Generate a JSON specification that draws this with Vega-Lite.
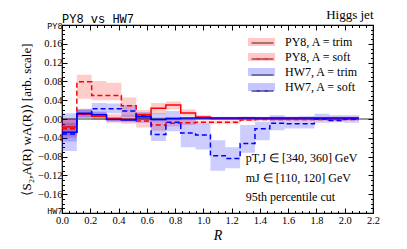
{
"$schema": "https://vega.github.io/schema/vega-lite/v6.json",
"width": 311, "height": 188,
"autosize": "none",
"padding": {"left": 62, "top": 25, "right": 34, "bottom": 36},
"config": {
  "view": {"stroke": "black", "strokeWidth": 1.2},
  "font": "Liberation Serif",
  "axis": {"grid": false, "domain": false, "tickColor": "black", "labelColor": "black", "titleColor": "black", "labelFont": "Liberation Serif", "titleFont": "Liberation Serif", "titleFontWeight": "normal"}
},
"title": {"text": "PY8 vs HW7", "anchor": "start", "frame": "group", "font": "Liberation Mono", "fontSize": 12, "fontWeight": "normal", "color": "black", "offset": -17},
"datasets": {"bins": [
{"s":"PY8, A = trim","R":0,"v":-0.017,"lo":-0.035,"hi":0.002},
{"s":"PY8, A = trim","R":0.105,"v":0.010,"lo":0.002,"hi":0.020},
{"s":"PY8, A = trim","R":0.21,"v":0.006,"lo":-0.002,"hi":0.014},
{"s":"PY8, A = trim","R":0.315,"v":0.001,"lo":-0.008,"hi":0.010},
{"s":"PY8, A = trim","R":0.42,"v":-0.001,"lo":-0.010,"hi":0.008},
{"s":"PY8, A = trim","R":0.525,"v":0.009,"lo":-0.001,"hi":0.019},
{"s":"PY8, A = trim","R":0.63,"v":0.023,"lo":0.010,"hi":0.034},
{"s":"PY8, A = trim","R":0.735,"v":0.030,"lo":0.020,"hi":0.037},
{"s":"PY8, A = trim","R":0.84,"v":0.013,"lo":0.006,"hi":0.020},
{"s":"PY8, A = trim","R":0.945,"v":0.004,"lo":0.000,"hi":0.008},
{"s":"PY8, A = trim","R":1.05,"v":0.001,"lo":-0.002,"hi":0.004},
{"s":"PY8, A = trim","R":1.155,"v":0.001,"lo":-0.002,"hi":0.004},
{"s":"PY8, A = trim","R":1.26,"v":0.002,"lo":-0.001,"hi":0.005},
{"s":"PY8, A = trim","R":1.365,"v":0.001,"lo":-0.002,"hi":0.004},
{"s":"PY8, A = trim","R":1.47,"v":0.001,"lo":-0.002,"hi":0.004},
{"s":"PY8, A = trim","R":1.575,"v":0.001,"lo":-0.001,"hi":0.003},
{"s":"PY8, A = trim","R":1.68,"v":0.001,"lo":-0.001,"hi":0.003},
{"s":"PY8, A = trim","R":1.785,"v":0.001,"lo":-0.001,"hi":0.003},
{"s":"PY8, A = trim","R":1.89,"v":0.001,"lo":-0.001,"hi":0.003},
{"s":"PY8, A = trim","R":1.995,"v":0.001,"lo":-0.001,"hi":0.003},
{"s":"PY8, A = trim","R":2.1,"v":0.001,"lo":-0.001,"hi":0.003},
{"s":"PY8, A = soft","R":0,"v":-0.021,"lo":-0.040,"hi":0.000},
{"s":"PY8, A = soft","R":0.105,"v":0.079,"lo":0.043,"hi":0.094},
{"s":"PY8, A = soft","R":0.21,"v":0.050,"lo":0.040,"hi":0.081},
{"s":"PY8, A = soft","R":0.315,"v":0.050,"lo":0.040,"hi":0.077},
{"s":"PY8, A = soft","R":0.42,"v":0.028,"lo":0.005,"hi":0.046},
{"s":"PY8, A = soft","R":0.525,"v":-0.004,"lo":-0.018,"hi":0.012},
{"s":"PY8, A = soft","R":0.63,"v":-0.013,"lo":-0.025,"hi":0.000},
{"s":"PY8, A = soft","R":0.735,"v":-0.009,"lo":-0.016,"hi":-0.002},
{"s":"PY8, A = soft","R":0.84,"v":-0.008,"lo":-0.013,"hi":-0.002},
{"s":"PY8, A = soft","R":0.945,"v":-0.007,"lo":-0.011,"hi":-0.003},
{"s":"PY8, A = soft","R":1.05,"v":-0.007,"lo":-0.010,"hi":-0.003},
{"s":"PY8, A = soft","R":1.155,"v":-0.007,"lo":-0.010,"hi":-0.003},
{"s":"PY8, A = soft","R":1.26,"v":-0.002,"lo":-0.004,"hi":0.001},
{"s":"PY8, A = soft","R":1.365,"v":-0.001,"lo":-0.003,"hi":0.001},
{"s":"PY8, A = soft","R":1.47,"v":-0.001,"lo":-0.003,"hi":0.001},
{"s":"PY8, A = soft","R":1.575,"v":-0.001,"lo":-0.003,"hi":0.001},
{"s":"PY8, A = soft","R":1.68,"v":-0.001,"lo":-0.003,"hi":0.001},
{"s":"PY8, A = soft","R":1.785,"v":-0.001,"lo":-0.003,"hi":0.001},
{"s":"PY8, A = soft","R":1.89,"v":-0.001,"lo":-0.003,"hi":0.001},
{"s":"PY8, A = soft","R":1.995,"v":-0.001,"lo":-0.003,"hi":0.001},
{"s":"PY8, A = soft","R":2.1,"v":-0.001,"lo":-0.003,"hi":0.001},
{"s":"HW7, A = trim","R":0,"v":-0.028,"lo":-0.048,"hi":-0.008},
{"s":"HW7, A = trim","R":0.105,"v":0.012,"lo":0.004,"hi":0.020},
{"s":"HW7, A = trim","R":0.21,"v":0.009,"lo":0.002,"hi":0.016},
{"s":"HW7, A = trim","R":0.315,"v":-0.001,"lo":-0.006,"hi":0.004},
{"s":"HW7, A = trim","R":0.42,"v":-0.002,"lo":-0.007,"hi":0.003},
{"s":"HW7, A = trim","R":0.525,"v":0.005,"lo":-0.001,"hi":0.011},
{"s":"HW7, A = trim","R":0.63,"v":-0.001,"lo":-0.005,"hi":0.003},
{"s":"HW7, A = trim","R":0.735,"v":0.001,"lo":-0.003,"hi":0.004},
{"s":"HW7, A = trim","R":0.84,"v":0.002,"lo":-0.001,"hi":0.005},
{"s":"HW7, A = trim","R":0.945,"v":0.002,"lo":-0.001,"hi":0.005},
{"s":"HW7, A = trim","R":1.05,"v":0.002,"lo":-0.001,"hi":0.005},
{"s":"HW7, A = trim","R":1.155,"v":0.002,"lo":-0.001,"hi":0.005},
{"s":"HW7, A = trim","R":1.26,"v":0.002,"lo":-0.001,"hi":0.005},
{"s":"HW7, A = trim","R":1.365,"v":0.002,"lo":-0.001,"hi":0.005},
{"s":"HW7, A = trim","R":1.47,"v":0.002,"lo":-0.001,"hi":0.005},
{"s":"HW7, A = trim","R":1.575,"v":0.002,"lo":-0.001,"hi":0.005},
{"s":"HW7, A = trim","R":1.68,"v":0.002,"lo":-0.001,"hi":0.005},
{"s":"HW7, A = trim","R":1.785,"v":0.002,"lo":-0.001,"hi":0.005},
{"s":"HW7, A = trim","R":1.89,"v":0.002,"lo":-0.001,"hi":0.005},
{"s":"HW7, A = trim","R":1.995,"v":0.002,"lo":-0.001,"hi":0.005},
{"s":"HW7, A = trim","R":2.1,"v":0.002,"lo":-0.001,"hi":0.005},
{"s":"HW7, A = soft","R":0,"v":-0.032,"lo":-0.068,"hi":0.012},
{"s":"HW7, A = soft","R":0.105,"v":0.011,"lo":0.002,"hi":0.022},
{"s":"HW7, A = soft","R":0.21,"v":0.022,"lo":0.010,"hi":0.034},
{"s":"HW7, A = soft","R":0.315,"v":0.022,"lo":0.012,"hi":0.033},
{"s":"HW7, A = soft","R":0.42,"v":0.017,"lo":0.004,"hi":0.030},
{"s":"HW7, A = soft","R":0.525,"v":0.006,"lo":-0.008,"hi":0.015},
{"s":"HW7, A = soft","R":0.63,"v":-0.033,"lo":-0.047,"hi":0.012},
{"s":"HW7, A = soft","R":0.735,"v":-0.007,"lo":-0.026,"hi":0.017},
{"s":"HW7, A = soft","R":0.84,"v":-0.030,"lo":-0.060,"hi":0.000},
{"s":"HW7, A = soft","R":0.945,"v":-0.034,"lo":-0.065,"hi":-0.010},
{"s":"HW7, A = soft","R":1.05,"v":-0.078,"lo":-0.110,"hi":-0.045},
{"s":"HW7, A = soft","R":1.155,"v":-0.084,"lo":-0.105,"hi":-0.060},
{"s":"HW7, A = soft","R":1.26,"v":-0.052,"lo":-0.072,"hi":-0.013},
{"s":"HW7, A = soft","R":1.365,"v":-0.021,"lo":-0.045,"hi":-0.006},
{"s":"HW7, A = soft","R":1.47,"v":-0.009,"lo":-0.024,"hi":0.008},
{"s":"HW7, A = soft","R":1.575,"v":-0.010,"lo":-0.020,"hi":0.005},
{"s":"HW7, A = soft","R":1.68,"v":-0.010,"lo":-0.020,"hi":0.006},
{"s":"HW7, A = soft","R":1.785,"v":0.000,"lo":-0.008,"hi":0.011},
{"s":"HW7, A = soft","R":1.89,"v":-0.003,"lo":-0.007,"hi":0.008},
{"s":"HW7, A = soft","R":1.995,"v":0.000,"lo":-0.008,"hi":0.008},
{"s":"HW7, A = soft","R":2.1,"v":0.000,"lo":-0.008,"hi":0.008}
]},
"data": {"name": "bins"},
"resolve": {"axis": {"x": "independent", "y": "independent"}},
"layer": [
{
  "mark": {"type": "area", "interpolate": "step-after", "opacity": 0.2},
  "encoding": {
    "x": {"field": "R", "type": "quantitative", "scale": {"domain": [0, 2.2], "nice": false, "zero": false},
      "axis": {"orient": "bottom", "values": [0,0.05,0.1,0.15,0.2,0.25,0.3,0.35,0.4,0.45,0.5,0.55,0.6,0.65,0.7,0.75,0.8,0.85,0.9,0.95,1,1.05,1.1,1.15,1.2,1.25,1.3,1.35,1.4,1.45,1.5,1.55,1.6,1.65,1.7,1.75,1.8,1.85,1.9,1.95,2,2.05,2.1,2.15,2.2],
        "labelExpr": "abs(datum.value*5 - round(datum.value*5)) < 0.001 ? format(datum.value, '.1f') : ''",
        "tickSize": {"condition": {"test": "abs(datum.value*5 - round(datum.value*5)) < 0.001", "value": -5}, "value": -2.5},
        "labelPadding": 7, "labelFontSize": 10.5, "labelOverlap": false, "labelFlush": false,
        "title": "R", "titleFontStyle": "italic", "titleFontSize": 14, "titlePadding": 0}},
    "y": {"field": "lo", "type": "quantitative", "stack": null, "scale": {"domain": [-0.2, 0.2], "nice": false, "zero": false},
      "axis": {"orient": "left", "values": [-0.2,-0.19,-0.18,-0.17,-0.16,-0.15,-0.14,-0.13,-0.12,-0.11,-0.1,-0.09,-0.08,-0.07,-0.06,-0.05,-0.04,-0.03,-0.02,-0.01,0,0.01,0.02,0.03,0.04,0.05,0.06,0.07,0.08,0.09,0.1,0.11,0.12,0.13,0.14,0.15,0.16,0.17,0.18,0.19,0.2],
        "labelExpr": "abs(datum.value - 0.2) < 1e-6 ? 'PY8' : abs(datum.value + 0.2) < 1e-6 ? 'HW7' : abs(datum.value*25 - round(datum.value*25)) < 0.001 ? format(datum.value, '.2f') : ''",
        "labelFont": {"condition": {"test": "abs(abs(datum.value) - 0.2) < 1e-6", "value": "Liberation Mono"}, "value": "Liberation Serif"},
        "labelFontSize": {"condition": {"test": "abs(abs(datum.value) - 0.2) < 1e-6", "value": 8.5}, "value": 10.5},
        "labelBaseline": {"condition": {"test": "abs(datum.value + 0.2) < 1e-6", "value": "alphabetic"}, "value": "middle"},
        "tickSize": {"condition": {"test": "abs(datum.value*25 - round(datum.value*25)) < 0.001", "value": -5}, "value": -2.5},
        "labelPadding": 5, "labelOverlap": false, "labelFlush": false,
        "title": "⟨S₂,A(R) wA(R)⟩ [arb. scale]", "titleFontSize": 13, "titlePadding": 4}},
    "y2": {"field": "hi"},
    "fill": {"field": "s", "type": "nominal",
      "scale": {"domain": ["PY8, A = trim", "PY8, A = soft", "HW7, A = trim", "HW7, A = soft"], "range": ["#ff0000", "#ff0000", "#0000ff", "#0000ff"]},
      "legend": {"orient": "none", "legendX": 190.5, "legendY": 8, "title": null, "padding": 0, "symbolType": "M-1.5,-0.45H1.5V0.45H-1.5Z", "symbolSize": 324, "symbolOpacity": 0.22, "symbolStrokeWidth": 0, "labelFont": "Liberation Serif", "labelFontSize": 12, "labelColor": "black", "labelOffset": 14.5, "rowPadding": 0}}
  }
},
{
  "data": {"values": [{}]},
  "mark": {"type": "rule", "color": "black", "strokeWidth": 0.8},
  "encoding": {"y": {"datum": 0, "type": "quantitative", "axis": null}}
},
{
  "mark": {"type": "line", "interpolate": "step-after", "strokeWidth": 1.5},
  "encoding": {
    "x": {"field": "R", "type": "quantitative", "axis": null},
    "y": {"field": "v", "type": "quantitative", "axis": null},
    "stroke": {"field": "s", "type": "nominal", "sort": ["PY8, A = trim", "PY8, A = soft", "HW7, A = trim", "HW7, A = soft"],
      "scale": {"range": ["#ff0000", "#ff0000", "#0000ff", "#0000ff"]},
      "legend": {"orient": "none", "legendX": 190.5, "legendY": 8, "title": null, "padding": 0, "symbolType": "M-1.2,0H1.2", "symbolSize": 324, "symbolStrokeWidth": 1.5, "labelExpr": "''", "labelFontSize": 12, "labelOffset": 14.5, "rowPadding": 0}},
    "strokeDash": {"field": "s", "type": "nominal", "sort": ["PY8, A = trim", "PY8, A = soft", "HW7, A = trim", "HW7, A = soft"],
      "scale": {"range": [[1, 0], [5, 3], [1, 0], [5, 3]]},
      "legend": {"orient": "none", "legendX": 190.5, "legendY": 8, "title": null, "padding": 0, "symbolType": "M-1.2,0H1.2", "symbolSize": 324, "symbolStrokeWidth": 1.5, "labelExpr": "''", "labelFontSize": 12, "labelOffset": 14.5, "rowPadding": 0}}
  }
},
{
  "mark": {"type": "point", "opacity": 0},
  "encoding": {
    "x": {"field": "R", "type": "quantitative",
      "axis": {"orient": "top", "values": [0,0.05,0.1,0.15,0.2,0.25,0.3,0.35,0.4,0.45,0.5,0.55,0.6,0.65,0.7,0.75,0.8,0.85,0.9,0.95,1,1.05,1.1,1.15,1.2,1.25,1.3,1.35,1.4,1.45,1.5,1.55,1.6,1.65,1.7,1.75,1.8,1.85,1.9,1.95,2,2.05,2.1,2.15,2.2],
        "labels": false,
        "tickSize": {"condition": {"test": "abs(datum.value*5 - round(datum.value*5)) < 0.001", "value": -5}, "value": -2.5},
        "title": "Higgs jet", "titleAnchor": "end", "titleFontSize": 13, "titlePadding": 3}},
    "y": {"field": "v", "type": "quantitative",
      "axis": {"orient": "right", "values": [-0.2,-0.19,-0.18,-0.17,-0.16,-0.15,-0.14,-0.13,-0.12,-0.11,-0.1,-0.09,-0.08,-0.07,-0.06,-0.05,-0.04,-0.03,-0.02,-0.01,0,0.01,0.02,0.03,0.04,0.05,0.06,0.07,0.08,0.09,0.1,0.11,0.12,0.13,0.14,0.15,0.16,0.17,0.18,0.19,0.2],
        "labels": false,
        "tickSize": {"condition": {"test": "abs(datum.value*25 - round(datum.value*25)) < 0.001", "value": -5}, "value": -2.5},
        "title": null}}
  }
},
{
  "data": {"values": [{}]},
  "mark": {"type": "text", "text": "pT,J ∈ [340, 360] GeV", "align": "left", "baseline": "middle", "font": "Liberation Serif", "fontSize": 12, "color": "black"},
  "encoding": {"x": {"datum": 1.3, "type": "quantitative", "axis": null}, "y": {"datum": -0.0824, "type": "quantitative", "axis": null}}
},
{
  "data": {"values": [{}]},
  "mark": {"type": "text", "text": "mJ  ∈ [110, 120] GeV", "align": "left", "baseline": "middle", "font": "Liberation Serif", "fontSize": 12, "color": "black"},
  "encoding": {"x": {"datum": 1.3, "type": "quantitative", "axis": null}, "y": {"datum": -0.1249, "type": "quantitative", "axis": null}}
},
{
  "data": {"values": [{}]},
  "mark": {"type": "text", "text": "95th percentile cut", "align": "left", "baseline": "middle", "font": "Liberation Serif", "fontSize": 12, "color": "black"},
  "encoding": {"x": {"datum": 1.3, "type": "quantitative", "axis": null}, "y": {"datum": -0.166, "type": "quantitative", "axis": null}}
}
]
}
